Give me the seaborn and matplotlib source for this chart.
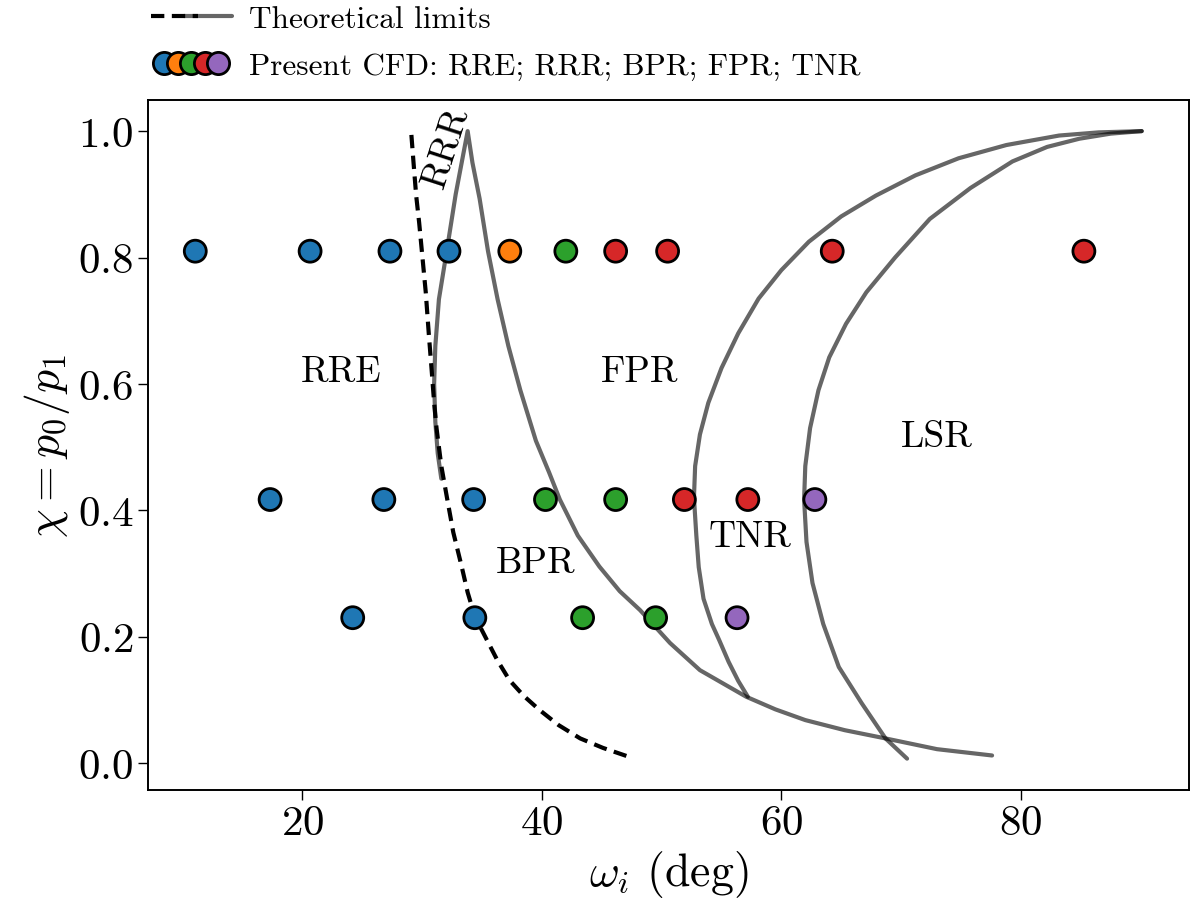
import numpy as np
import pandas as pd
import matplotlib
matplotlib.use("Agg")
import matplotlib.pyplot as plt
import seaborn as sns
from matplotlib.lines import Line2D
from matplotlib.legend_handler import HandlerTuple

# ---------------- data ----------------
regimes = ["RRE", "RRR", "BPR", "FPR", "TNR"]
regime_colors = ["#1f77b4", "#ff7f0e", "#2ca02c", "#d62728", "#9467bd"]

cfd_omega = [11.05, 20.64, 27.31, 32.24, 37.32, 42.0, 46.16, 50.5, 64.25, 85.27,
             17.3, 26.8, 34.3, 40.3, 46.16, 51.9, 57.2, 62.8,
             24.2, 34.4, 43.4, 49.5, 56.3]
cfd_chi = [0.81] * 10 + [0.417] * 8 + [0.23] * 5
cfd_regime = ["RRE", "RRE", "RRE", "RRE", "RRR", "BPR", "FPR", "FPR", "FPR", "FPR",
              "RRE", "RRE", "RRE", "BPR", "BPR", "FPR", "FPR", "TNR",
              "RRE", "RRE", "BPR", "BPR", "TNR"]

# theoretical limit: RRE / BPR boundary (dashed)
dash_omega = [29.1, 29.3, 29.5, 29.75, 29.96, 30.3, 30.55, 30.8, 31.0, 31.2, 31.6, 32.1,
              32.6, 33.3, 33.8, 34.4, 35.4, 36.3, 37.3, 38.5, 39.8, 41.4, 43.2, 45.1, 47.1]
dash_chi = [0.994, 0.945, 0.898, 0.855, 0.813, 0.745, 0.68, 0.62, 0.57, 0.53, 0.47, 0.417,
            0.365, 0.311, 0.27, 0.232, 0.195, 0.162, 0.131, 0.106, 0.084, 0.06, 0.039, 0.024, 0.011]

# RRR / FPR boundary (solid gray)
rrr_omega = [31.6, 31.3, 31.1, 31.0, 31.1, 31.4, 32.05, 32.8, 33.3, 33.8,
             34.2, 34.8, 35.5, 36.3, 37.2, 38.2, 39.5, 40.6, 41.5, 43.0, 44.8, 46.5, 48.2,
             50.7, 53.2, 57.06, 59.5, 62.0, 65.3, 68.7, 73.0, 77.6]
rrr_chi = [0.45, 0.49, 0.54, 0.6, 0.66, 0.734, 0.81, 0.9, 0.95, 1.0,
           0.95, 0.893, 0.81, 0.734, 0.66, 0.59, 0.51, 0.46, 0.417, 0.36, 0.311, 0.272, 0.242,
           0.19, 0.147, 0.105, 0.085, 0.068, 0.052, 0.039, 0.022, 0.012]

# TNR boundary
tnr_omega = [57.2, 56.4, 55.6, 54.8, 54.2, 53.5, 53.1, 52.9, 52.7, 52.8, 53.2, 53.9, 55.0,
             56.4, 58.1, 60.0, 62.3, 65.0, 67.9, 71.2, 74.8, 78.8, 83.2, 86.5, 90.1]
tnr_chi = [0.105, 0.13, 0.16, 0.195, 0.22, 0.26, 0.31, 0.36, 0.42, 0.47, 0.52, 0.57, 0.625,
           0.68, 0.735, 0.78, 0.825, 0.865, 0.898, 0.93, 0.957, 0.978, 0.993, 0.998, 1.0]

# LSR boundary
lsr_omega = [70.5, 68.7, 66.7, 64.8, 63.5, 62.6, 62.1, 61.9, 62.0, 62.4, 63.1, 64.0, 65.4,
             67.1, 69.5, 72.4, 75.8, 79.3, 82.2, 84.9, 87.5, 90.1]
lsr_chi = [0.007, 0.039, 0.095, 0.152, 0.22, 0.285, 0.35, 0.417, 0.47, 0.53, 0.59, 0.642, 0.695,
           0.745, 0.8, 0.861, 0.91, 0.952, 0.975, 0.988, 0.996, 1.0]

region_labels = ["RRE", "FPR", "LSR", "TNR", "BPR"]
region_omega = [23.2, 48.2, 72.95, 57.35, 39.5]
region_chi = [0.62, 0.62, 0.517, 0.358, 0.318]

# ---------------- style ----------------
sns.set_style("ticks")
plt.rcParams["font.family"] = "serif"
plt.rcParams["font.serif"] = ["cmr10", "DejaVu Serif"]
plt.rcParams["mathtext.fontset"] = "cm"
plt.rcParams["axes.formatter.use_mathtext"] = True
plt.rcParams["axes.unicode_minus"] = False
for k in ["text.color", "axes.labelcolor", "xtick.color", "ytick.color", "axes.edgecolor"]:
    plt.rcParams[k] = "black"

fig = plt.figure(figsize=(11.99, 9.2), dpi=100)
ax = fig.add_axes([0.1234, 0.1402, 0.8683, 0.7503])

gray = "#000000"
line_kw = dict(sort=False, estimator=None, ax=ax, legend=False)
sns.lineplot(x=dash_omega, y=dash_chi, color="black", lw=3, linestyle=(0, (3.2, 1.8)), **line_kw)
for xs, ys in [(rrr_omega, rrr_chi), (tnr_omega, tnr_chi), (lsr_omega, lsr_chi)]:
    sns.lineplot(x=xs, y=ys, color=gray, alpha=0.6, lw=3, **line_kw)

df = pd.DataFrame({"omega": cfd_omega, "chi": cfd_chi, "regime": cfd_regime})
sns.scatterplot(data=df, x="omega", y="chi", hue="regime", hue_order=regimes,
                palette=regime_colors, s=250, edgecolor="black", linewidth=2,
                ax=ax, legend=False, zorder=3)

for lab, xx, yy in zip(region_labels, region_omega, region_chi):
    ax.text(xx, yy, lab, fontsize=27, ha="center", va="center")
ax.text(32.0, 0.975, "RRR", fontsize=27, ha="center", va="center", rotation=72)

ax.set_xticks([20, 40, 60, 80])
ax.set_yticks([0.0, 0.2, 0.4, 0.6, 0.8, 1.0])
ax.tick_params(labelsize=31, length=7, width=1.0, direction="out")
for sp in ax.spines.values():
    sp.set_linewidth(1.4)
    sp.set_color("black")
ax.set_xlabel(r"$\omega_i$ (deg)", fontsize=33)
ax.set_ylabel(r"$\chi = p_0/p_1$", fontsize=33)

# ---------------- legend ----------------
h_dash = Line2D([], [], color="black", lw=3, linestyle=(0, (3.2, 1.8)))
h_gray = Line2D([], [], color=gray, alpha=0.6, lw=3)
dots = tuple(Line2D([], [], marker="o", ls="none", markersize=16, markerfacecolor=c,
                    markeredgecolor="black", markeredgewidth=2) for c in regime_colors)
fig.legend([(h_dash, h_gray), dots],
           ["Theoretical limits", "Present CFD: RRE; RRR; BPR; FPR; TNR"],
           handler_map={tuple: HandlerTuple(ndivide=None, pad=-0.45)},
           loc="upper left", bbox_to_anchor=(0.123, 0.997), frameon=False,
           fontsize=22.5, handlelength=2.6, handletextpad=0.55, labelspacing=0.62,
           borderaxespad=0.0, borderpad=0.1)

fig.savefig("out.png", dpi=100)
